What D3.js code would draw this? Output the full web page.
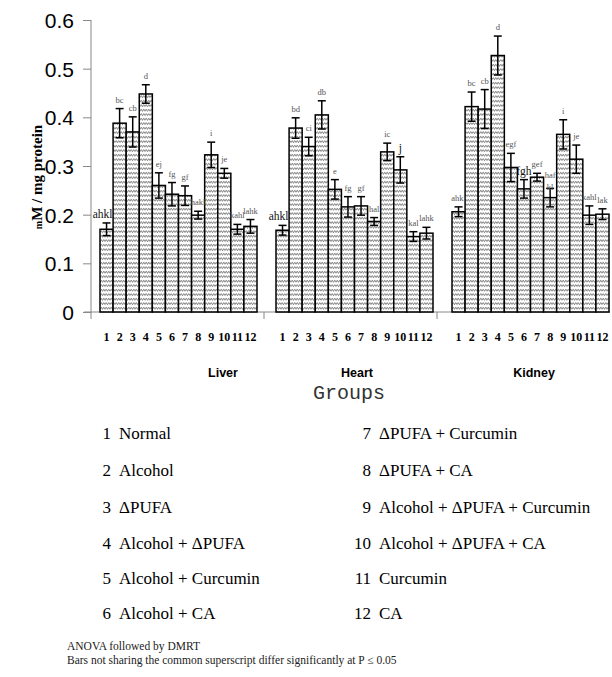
<!DOCTYPE html>
<html><head><meta charset="utf-8">
<script src="https://cdn.jsdelivr.net/npm/d3@7/dist/d3.min.js"></script>
<style>body{margin:0;background:#fff}svg{display:block}</style>
</head><body><svg id="c" width="612" height="677"></svg>
<script>
const organs = ["Liver", "Heart", "Kidney"];
const groups = ["1","2","3","4","5","6","7","8","9","10","11","12"];
const liverMean  = [0.170,0.388,0.370,0.448,0.260,0.242,0.239,0.199,0.323,0.285,0.170,0.176];
const liverErr   = [0.013,0.030,0.031,0.019,0.026,0.024,0.020,0.008,0.026,0.010,0.010,0.014];
const heartMean  = [0.168,0.378,0.340,0.405,0.252,0.216,0.218,0.186,0.329,0.292,0.155,0.162];
const heartErr   = [0.010,0.021,0.019,0.029,0.020,0.021,0.019,0.008,0.018,0.027,0.010,0.012];
const kidneyMean = [0.206,0.422,0.417,0.527,0.297,0.253,0.277,0.235,0.365,0.314,0.199,0.201];
const kidneyErr  = [0.010,0.030,0.040,0.040,0.029,0.019,0.008,0.019,0.030,0.029,0.019,0.011];
const liverSup  = ["ahkl","bc","cb","d","ej","fg","gf","hakl","i","je","kahl","lahk"];
const heartSup  = ["ahkl","bd","ci","db","e","fg","gf","hal","ic","j","kal","lahk"];
const kidneySup = ["ahkl","bc","cb","d","egf","fgh","gef","haf|kl","i","je","kahl","lak"];
const yTicks = [0,0.1,0.2,0.3,0.4,0.5,0.6];
const legendLeft  = ["Normal","Alcohol","\u0394PUFA","Alcohol + \u0394PUFA","Alcohol + Curcumin","Alcohol + CA"];
const legendRight = ["\u0394PUFA + Curcumin","\u0394PUFA + CA","Alcohol + \u0394PUFA + Curcumin","Alcohol + \u0394PUFA + CA","Curcumin","CA"];
const bigLabels = {"Liver-0":1,"Heart-0":1,"Heart-9":1,"Kidney-5":1};

const series = {
  Liver:  {mean: liverMean,  err: liverErr,  sup: liverSup},
  Heart:  {mean: heartMean,  err: heartErr,  sup: heartSup},
  Kidney: {mean: kidneyMean, err: kidneyErr, sup: kidneySup}
};

const svg = d3.select("#c");
const defs = svg.append("defs");
const pat = defs.append("pattern").attr("id","zig").attr("patternUnits","userSpaceOnUse")
  .attr("width",5).attr("height",4.5);
pat.append("rect").attr("width",5).attr("height",4.5).attr("fill","#fff");
pat.append("path").attr("d","M0,3.2 L1.25,1.2 L2.5,3.2 L3.75,1.2 L5,3.2")
  .attr("stroke","#6a6a6a").attr("stroke-width",0.9).attr("fill","none");

const y = d3.scaleLinear().domain([0,0.6]).range([312,20]);
const x0 = d3.scaleBand().domain(organs).range([100,628]);
const x1 = d3.scaleBand().domain(groups).range([0,157]);
const xa = d3.scaleBand().domain(organs).range([91,610]);

// y axis
const yAxis = svg.append("g").attr("transform","translate(91,0)")
  .call(d3.axisLeft(y).tickValues(yTicks).tickSize(8).tickPadding(9)
    .tickFormat(d => d === 0 ? "0" : d.toFixed(1)));
yAxis.select(".domain").attr("stroke","#888").attr("d","M0,20V312");
yAxis.selectAll(".tick line").attr("stroke","#888");
yAxis.selectAll(".tick text").attr("font-family","Liberation Sans, Arial, sans-serif")
  .attr("font-size",21).attr("fill","#000").attr("dy","0.35em");

// x axis line & ticks
svg.append("line").attr("x1",84).attr("x2",610).attr("y1",312).attr("y2",312)
  .attr("stroke","#888").attr("stroke-width",1);
svg.selectAll(".xt").data(organs).enter().append("line")
  .attr("x1",d=>xa(d)).attr("x2",d=>xa(d)).attr("y1",312).attr("y2",319)
  .attr("stroke","#888");

// bars
organs.forEach(o => {
  const s = series[o];
  const g = svg.append("g").attr("transform",`translate(${x0(o)},0)`);
  const data = groups.map((k,i)=>({k, i, m:s.mean[i], e:s.err[i], sup:s.sup[i]}));
  g.selectAll("rect").data(data).enter().append("rect")
    .attr("x",d=>x1(d.k)).attr("width",x1.bandwidth())
    .attr("y",d=>y(d.m)).attr("height",d=>y(0)-y(d.m))
    .attr("fill","url(#zig)").attr("stroke","#000").attr("stroke-width",1.5);
  const cx = d => x1(d.k)+x1.bandwidth()/2;
  const eb = g.selectAll(".eb").data(data).enter().append("g").attr("stroke","#000").attr("stroke-width",1.5);
  eb.append("line").attr("x1",cx).attr("x2",cx).attr("y1",d=>y(d.m+d.e)).attr("y2",d=>y(d.m-d.e));
  eb.append("line").attr("x1",d=>cx(d)-4).attr("x2",d=>cx(d)+4).attr("y1",d=>y(d.m+d.e)).attr("y2",d=>y(d.m+d.e));
  eb.append("line").attr("x1",d=>cx(d)-4).attr("x2",d=>cx(d)+4).attr("y1",d=>y(d.m-d.e)).attr("y2",d=>y(d.m-d.e));
  // superscripts
  data.forEach(d => {
    const big = bigLabels[o+"-"+d.i];
    const parts = d.sup.split("|");
    const t = g.append("text").attr("text-anchor","middle")
      .attr("font-family","Liberation Serif, Times New Roman, serif")
      .attr("font-size", big ? 11.5 : 8.5).attr("fill", big ? "#111" : "#555");
    parts.forEach((p,j)=>{
      t.append("tspan").attr("x",cx(d) + (big && d.i===0 ? -4 : 0))
        .attr("y", y(d.m+d.e) - (big?5:6) + j*12 - (parts.length>1?4:0)).text(p);
    });
  });
  // group numbers
  g.selectAll(".num").data(data).enter().append("text")
    .attr("x",cx).attr("y",341).attr("text-anchor","middle")
    .attr("font-family","Liberation Serif, Times New Roman, serif").attr("font-weight","bold")
    .attr("font-size",12).text(d=>d.k);
});

// organ labels
const organX = {Liver:223, Heart:357, Kidney:534};
svg.selectAll(".ol").data(organs).enter().append("text")
  .attr("x",d=>organX[d]).attr("y",377).attr("text-anchor","middle")
  .attr("font-family","Liberation Sans, Arial, sans-serif").attr("font-weight","bold")
  .attr("font-size",12.5).text(d=>d);
svg.append("text").attr("x",349).attr("y",399).attr("text-anchor","middle")
  .attr("font-family","Liberation Mono, Courier New, monospace").attr("font-size",20)
  .attr("fill","#333").text("Groups");

// y title
const yt = svg.append("text").attr("transform","translate(42,177) rotate(-90)")
  .attr("text-anchor","middle").attr("font-family","Liberation Serif, Times New Roman, serif")
  .attr("font-weight","bold").attr("font-size",15);
yt.append("tspan").attr("font-size",10).text("m");
yt.append("tspan").text("M  / mg protein");

// legend
const rowsY = [439,476,513,549,584,619];
const lf = "Liberation Serif, Times New Roman, serif";
legendLeft.forEach((t,i)=>{
  svg.append("text").attr("x",111).attr("y",rowsY[i]).attr("text-anchor","end")
    .attr("font-family",lf).attr("font-size",17).text(groups[i]);
  svg.append("text").attr("x",119).attr("y",rowsY[i])
    .attr("font-family",lf).attr("font-size",17).text(t);
});
legendRight.forEach((t,i)=>{
  svg.append("text").attr("x",371).attr("y",rowsY[i]).attr("text-anchor","end")
    .attr("font-family",lf).attr("font-size",17).text(groups[i+6]);
  svg.append("text").attr("x",379).attr("y",rowsY[i])
    .attr("font-family",lf).attr("font-size",17).text(t);
});

// footnote
svg.append("text").attr("x",67).attr("y",650).attr("font-family",lf).attr("font-size",11.5)
  .attr("fill","#222").text("ANOVA followed by DMRT");
svg.append("text").attr("x",67).attr("y",664).attr("font-family",lf).attr("font-size",11.5)
  .attr("fill","#222").text("Bars not sharing the common superscript differ significantly at P \u2264 0.05");
</script></body></html>
